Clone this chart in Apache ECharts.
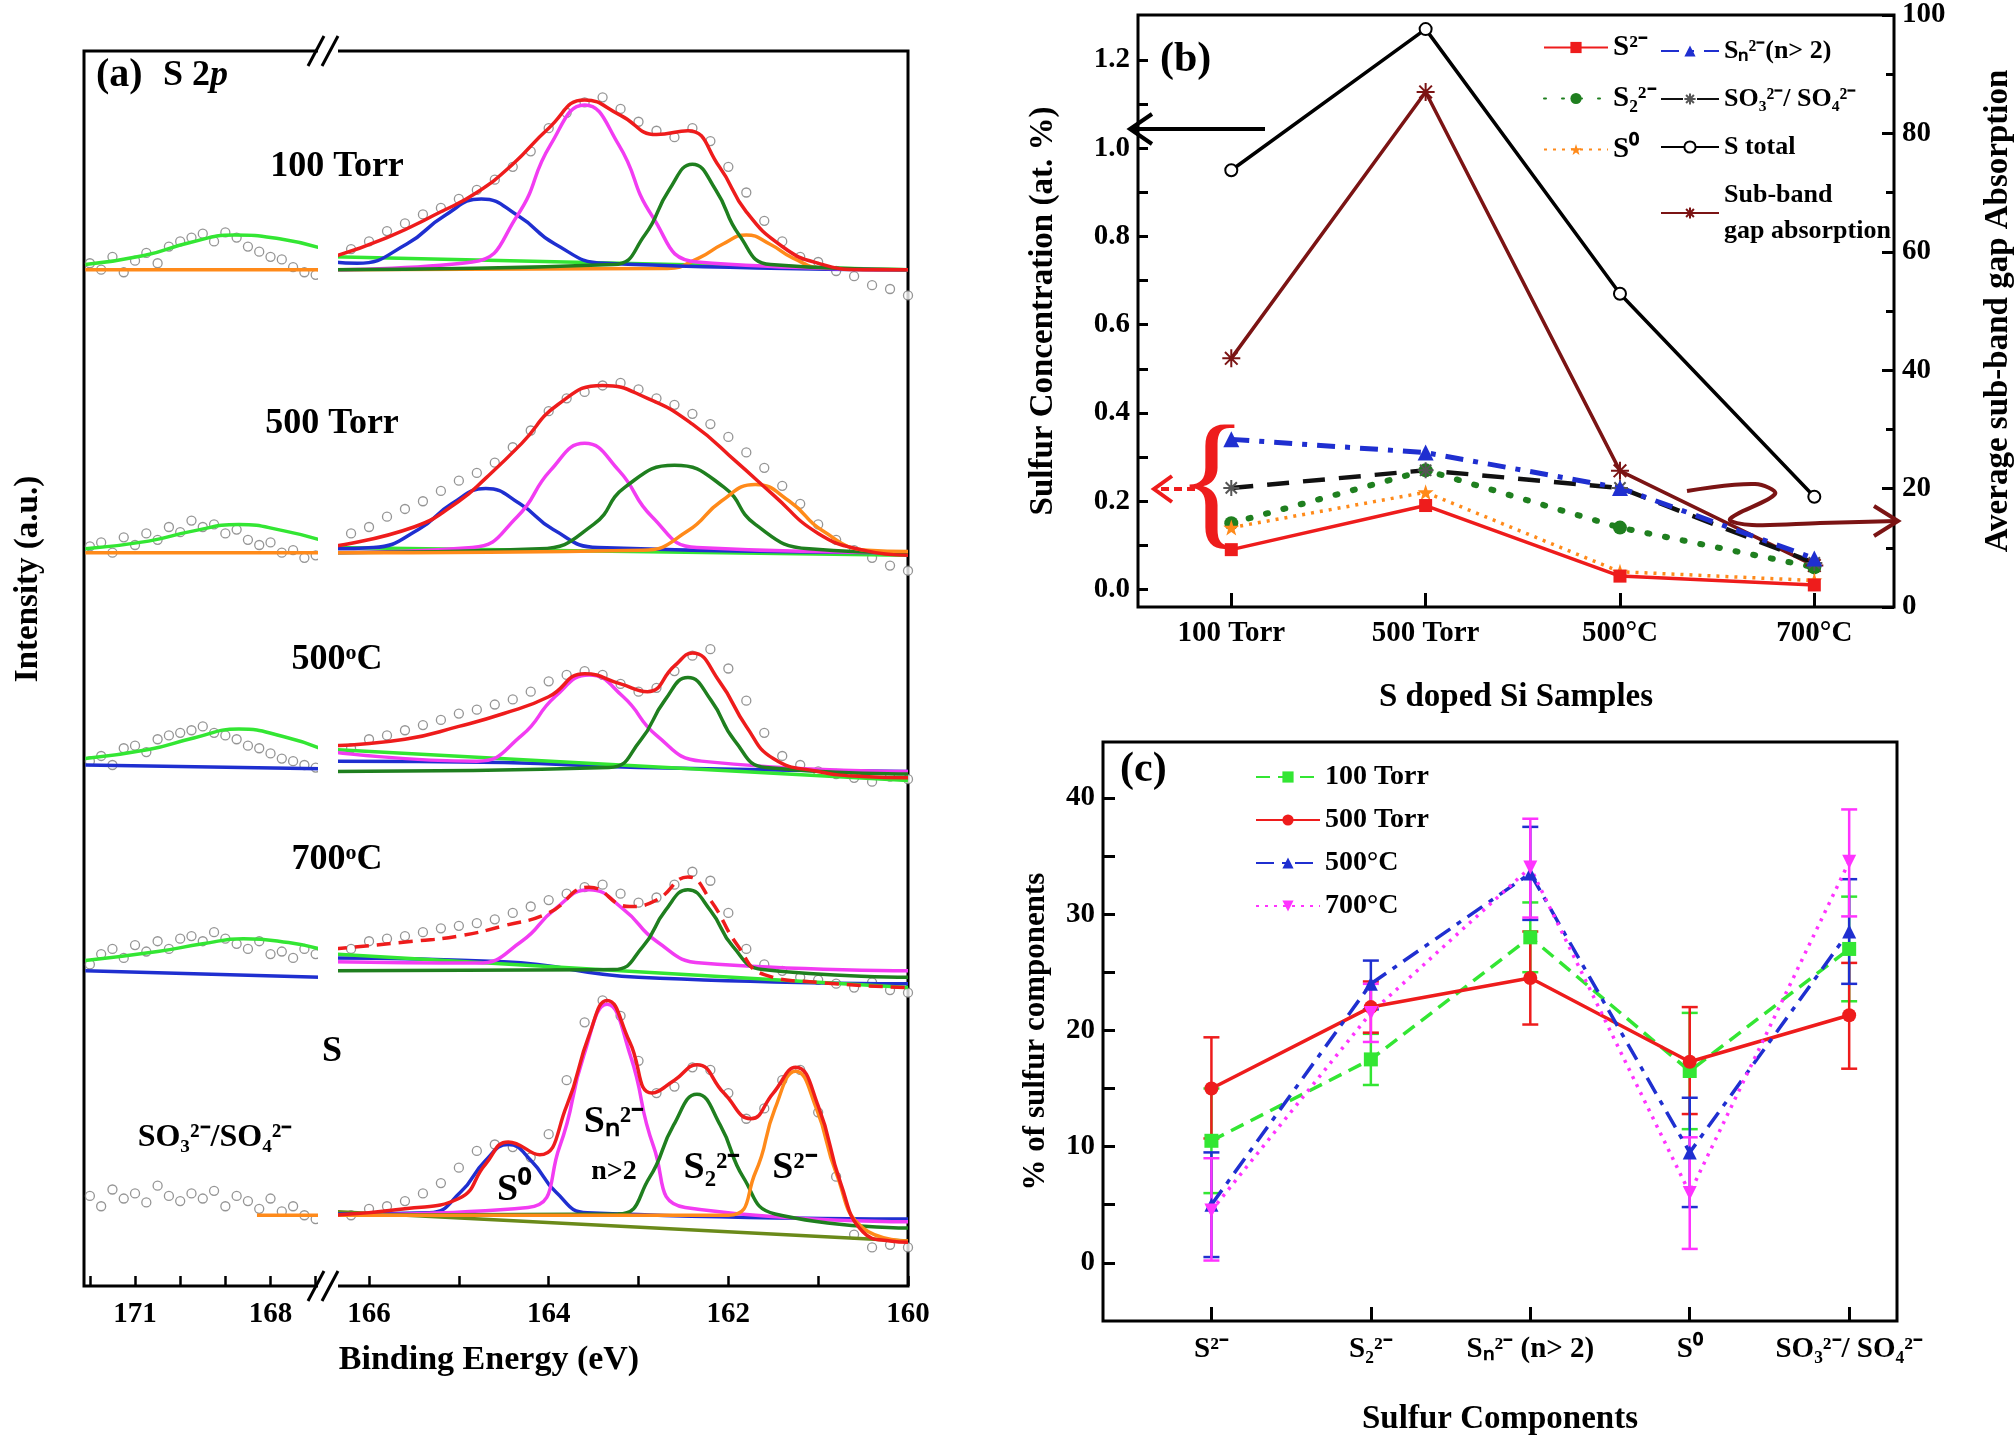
<!DOCTYPE html>
<html><head><meta charset="utf-8">
<script src="https://cdn.jsdelivr.net/npm/echarts@6/dist/echarts.min.js"></script>
<style>html,body{margin:0;background:#fff}#c{width:2016px;height:1447px}</style>
</head><body><div id="c"></div>
<script>
// ---------- Panel (a): XPS S 2p spectra (intensity in arbitrary stacked units) ----------
const rightX = [166.4,166.2,166.0,165.8,165.6,165.4,165.2,165.0,164.8,164.6,164.4,164.2,164.0,163.8,163.6,163.4,163.2,163.0,162.8,162.6,162.4,162.2,162.0,161.8,161.6,161.4,161.2,161.0,160.8,160.6,160.4,160.2,160.0];
const leftX = [172,171.75,171.5,171.25,171,170.75,170.5,170.25,170,169.75,169.5,169.25,169,168.75,168.5,168.25,168,167.75,167.5,167.25,167];
const aTickLabelsLeft = [171,168];
const aTickLabelsRight = [166,164,162,160];

// 100 Torr
const t100_scR = [800,806,812,820,826,833,838,845,852,860,870,882,900,912,920,924,915,905,898,893,900,890,870,850,828,812,800,796,789,785,778,775,770];
const t100_scL = [795,790,800,788,797,803,795,808,812,815,818,812,819,815,808,804,800,798,792,788,786];
const t100_blue = [[166.4,796],[166.13,795],[165.58,810],[165.16,832],[164.75,845],[164.34,832],[163.93,810],[163.38,795],[160,790]];
const t100_mag = [[166.4,790],[164.85,796],[164.35,832],[163.98,887],[163.6,918],[163.22,887],[162.85,832],[162.35,796],[160,790]];
const t100_grn = [[166.4,790],[163.28,794],[162.93,817],[162.66,852],[162.4,872],[162.14,852],[161.88,817],[161.53,794],[160,790]];
const t100_org = [[166.4,790],[162.68,791],[162.33,799],[162.06,810],[161.8,817],[161.54,810],[161.28,799],[160.93,791],[160,790]];
const t100_base = [[166.4,800],[160,790]];
const t100_red = [[166.4,800],[165.8,815],[165.2,835],[164.8,850],[164.4,872],[164,900],[163.6,922],[163.2,910],[162.8,895],[162.45,898],[162.1,870],[161.8,835],[161.4,808],[161,795],[160.5,790],[160,790]];
const t100_grnL = [[172.1,794],[170.8,801],[169.8,811],[168.8,817],[167.8,814],[166.9,807]];
const t100_orgL = [[172.1,790],[166.9,790]];

// 500 Torr
const t500_scR = [578,585,590,598,604,610,618,626,632,640,652,665,680,690,695,700,702,697,690,685,678,670,660,648,636,622,608,592,580,572,566,560,556];
const t500_scL = [575,578,570,582,576,585,580,590,586,595,590,592,585,588,580,576,578,570,572,566,568];
const t500_blue = [[166.4,573],[165.95,574],[165.45,588],[165.08,608],[164.7,620],[164.32,608],[163.95,588],[163.45,574],[160,570]];
const t500_mag = [[166.4,570],[164.85,574],[164.35,598],[163.98,634],[163.6,655],[163.22,634],[162.85,598],[162.35,574],[160,570]];
const t500_grn = [[166.4,570],[164.1,573],[163.5,592],[163.15,621],[162.6,638],[162.05,621],[161.7,592],[161.1,573],[160,570]];
const t500_org = [[166.4,570],[162.95,572],[162.45,587],[162.08,610],[161.7,623],[161.32,610],[160.95,587],[160.45,572],[160,571]];
const t500_base = [[166.4,574],[160,568]];
const t500_red = [[166.4,575],[165.5,590],[165,610],[164.7,628],[164.3,655],[163.9,685],[163.4,700],[162.9,690],[162.4,670],[161.9,640],[161.5,615],[161,585],[160.5,572],[160,568]];
const t500_grnL = [[172.1,573],[170.7,579],[169.7,587],[168.7,592],[167.7,587],[166.9,580]];
const t500_orgL = [[172.1,570],[166.9,570]];

// 500 °C
const c500_scR = [420,418,425,428,432,436,440,445,448,452,456,462,470,475,478,475,468,462,465,478,490,495,480,455,430,412,405,400,398,395,392,396,394];
const c500_scL = [408,412,405,418,420,415,425,428,430,432,435,430,428,425,420,418,414,410,408,405,403];
const c500_blue = [[166.4,408],[164.5,407],[163,403],[160,400]];
const c500_mag = [[166.4,415],[164.8,408],[164.3,428],[163.93,458],[163.55,475],[163.17,458],[162.8,428],[162.3,408],[160,400]];
const c500_grn = [[166.4,400],[163.33,403],[162.98,424],[162.71,455],[162.45,473],[162.19,455],[161.93,424],[161.58,403],[160,398]];
const c500_base = [[166.4,417],[160,393]];
const c500_red = [[166.4,420],[165.6,425],[165,435],[164.5,445],[164,458],[163.6,476],[163.2,468],[162.9,462],[162.6,482],[162.4,492],[162.1,470],[161.8,435],[161.5,410],[161,400],[160.5,396],[160,395]];
const c500_grnL = [[172.1,410],[170.7,417],[169.7,426],[168.7,433],[167.7,427],[166.9,418]];
const c500_blueL = [[172.1,405],[166.9,402]];

// 700 °C
const c700_scR = [265,262,268,270,272,275,278,280,282,285,290,295,300,305,310,312,305,298,302,312,322,315,290,262,250,245,240,238,235,232,236,230,228];
const c700_scL = [250,258,262,255,265,260,268,262,270,272,268,275,270,266,262,268,258,260,255,262,258];
const c700_blue = [[166.4,255],[164.5,252],[163,240],[160,235]];
const c700_mag = [[166.4,252],[164.8,251],[164.3,268],[163.93,293],[163.55,308],[163.17,293],[162.8,268],[162.3,251],[160,245]];
const c700_grn = [[166.4,245],[163.28,246],[162.95,264],[162.7,292],[162.45,308],[162.2,292],[161.95,264],[161.62,246],[160,240]];
const c700_base = [[166.4,258],[160,232]];
const c700_red = [[166.4,262],[165.5,268],[165,272],[164.5,280],[164,290],[163.55,310],[163.1,295],[162.8,300],[162.45,318],[162.2,300],[161.9,265],[161.6,242],[161,236],[160,232]];
const c700_grnL = [[172.1,253],[170.5,260],[169.5,266],[168.6,270],[167.6,267],[166.9,262]];
const c700_blueL = [[172.1,245],[166.9,240]];

// S reference
const s_scR = [58,55,60,62,66,72,80,92,105,110,108,100,118,160,205,222,210,175,150,155,170,168,150,130,138,160,168,135,85,40,30,32,30];
const s_scL = [70,62,75,68,72,65,78,70,66,72,68,74,62,70,66,60,68,58,62,55,52];
const s_blue = [[166.4,56],[165.33,57],[164.98,73],[164.71,97],[164.45,110],[164.19,97],[163.92,73],[163.57,57],[160,52]];
const s_mag = [[166.4,55],[164.23,61],[163.88,108],[163.61,179],[163.35,219],[163.09,179],[162.83,108],[162.48,61],[160,50]];
const s_grn = [[166.4,55],[163.23,56],[162.88,84],[162.61,125],[162.35,149],[162.09,125],[161.83,84],[161.48,56],[160,45]];
const s_org = [[166.4,55],[162,55],[161.7,88],[161.48,138],[161.25,167],[161.02,138],[160.8,88],[160.5,45],[160,35]];
const s_base = [[166.4,58],[160,35]];
const s_red = [[166.4,55],[165.6,60],[165,68],[164.7,95],[164.45,112],[164.1,102],[163.8,140],[163.55,195],[163.35,222],[163.1,190],[162.85,150],[162.6,160],[162.35,172],[162.05,150],[161.75,130],[161.5,150],[161.25,170],[161,140],[160.75,80],[160.5,42],[160.2,35],[160,34]];
const s_orgL = [[168.3,55],[166.9,55]];

// ---------- Panel (b) ----------
const bCats = ['100 Torr','500 Torr','500°C','700°C'];
const bS2m = [0.09,0.19,0.03,0.01];
const bS22 = [0.15,0.27,0.14,0.05];
const bS0 = [0.14,0.22,0.04,0.02];
const bSn = [0.34,0.31,0.23,0.07];
const bSO = [0.23,0.27,0.23,0.06];
const bTotal = [0.95,1.27,0.67,0.21];
const bSub = [42,87,23,7];
const bLeftTicks = [0,0.2,0.4,0.6,0.8,1.0,1.2];
const bLeftMinor = [0,0.1,0.2,0.3,0.4,0.5,0.6,0.7,0.8,0.9,1.0,1.1,1.2];

// ---------- Panel (c) ----------
const cCats = ['S²⁻','S₂²⁻','Sₙ²⁻ (n> 2)','S⁰','SO₃²⁻/ SO₄²⁻'];
const c100 = [10.5,17.5,28,16.5,27];
const c100lo = [6,15.3,25,11.5,22.5];
const c100hi = [15,19.7,31,21.5,31.5];
const c500T = [15,22,24.5,17.3,21.3];
const c500Tlo = [10.7,19.8,20.5,12.8,16.7];
const c500Thi = [19.4,24.2,28.5,22,25.8];
const c500C = [5,24,33.5,9.5,28.5];
const c500Clo = [0.5,21.8,29.5,4.8,24];
const c500Chi = [9.5,26,37.5,14.2,33];
const c700 = [4.5,21.5,34,6,34.5];
const c700lo = [0.2,19,29.7,1.2,29.8];
const c700hi = [9,24,38.2,10.8,39];
const cYTicks = [0,10,20,30,40];

// ---------- helpers ----------
const F = 'Liberation Serif';
const RED='#ee1c1c', BLUE='#1f2fd0', MAG='#f23cf2', GRN='#1f7f1f', ORG='#ff8a1a', LGRN='#33e633', GRAY='#7a7a7a', BROWN='#7b1414';
const zipX = (xs, ys) => xs.map((x,i)=>[x,ys[i]]);
const idx = arr => arr.map((v,i)=>[i,v]);
function ln(data, color, xi, opts={}) {
  return Object.assign({type:'line', data, xAxisIndex:xi, yAxisIndex:xi, symbol:'none', smooth:0.5,
    lineStyle:{color, width:3.5}, itemStyle:{color}, silent:true, z:3}, opts);
}
function sc(data, xi) {
  return {type:'scatter', data, xAxisIndex:xi, yAxisIndex:xi, symbol:'circle', symbolSize:9,
    itemStyle:{color:'#fff', borderColor:GRAY, borderWidth:1.3}, silent:true, z:2};
}
const specSeries = [];
function addSpec(scR, scL, parts) {
  specSeries.push(sc(zipX(rightX, scR),1), sc(zipX(leftX, scL),0));
  parts.forEach(p=>specSeries.push(ln(p[0], p[1], p[2], p[3]||{})));
}
addSpec(t100_scR, t100_scL, [[t100_base,LGRN,1],[t100_org,ORG,1],[t100_blue,BLUE,1],[t100_mag,MAG,1],[t100_grn,GRN,1],[t100_red,RED,1],[t100_orgL,ORG,0],[t100_grnL,LGRN,0]]);
addSpec(t500_scR, t500_scL, [[t500_base,LGRN,1],[t500_blue,BLUE,1],[t500_mag,MAG,1],[t500_grn,GRN,1],[t500_org,ORG,1],[t500_red,RED,1],[t500_orgL,ORG,0],[t500_grnL,LGRN,0]]);
addSpec(c500_scR, c500_scL, [[c500_blue,BLUE,1],[c500_base,LGRN,1],[c500_mag,MAG,1],[c500_grn,GRN,1],[c500_red,RED,1],[c500_blueL,BLUE,0],[c500_grnL,LGRN,0]]);
addSpec(c700_scR, c700_scL, [[c700_blue,BLUE,1],[c700_base,LGRN,1],[c700_mag,MAG,1],[c700_grn,GRN,1],[c700_red,RED,1,{lineStyle:{color:RED,width:3.5,type:[14,8]}}],[c700_blueL,BLUE,0],[c700_grnL,LGRN,0]]);
addSpec(s_scR, s_scL, [[s_base,'#6a8a1a',1],[s_blue,BLUE,1],[s_mag,MAG,1],[s_grn,GRN,1],[s_org,ORG,1],[s_red,RED,1],[s_orgL,ORG,0]]);

const star = 'path://M5,0L6.2,3.6L10,3.6L7,5.9L8.1,9.5L5,7.3L1.9,9.5L3,5.9L0,3.6L3.8,3.6Z';
const aster = 'path://M0,5L10,5M5,0L5,10M1.5,1.5L8.5,8.5M8.5,1.5L1.5,8.5';
function bl(name, data, color, symbol, size, type, yi, extra={}) {
  return Object.assign({type:'line', name, data:idx(data), xAxisIndex:2, yAxisIndex:yi, symbol, symbolSize:size,
    lineStyle:{color, width:3.5, type}, itemStyle:{color}, z:4}, extra);
}
function cl(name, data, color, symbol, type) {
  return {type:'line', name, data:idx(data), xAxisIndex:3, yAxisIndex:4, symbol, symbolSize:14,
    lineStyle:{color, width:3.5, type}, itemStyle:{color}, z:4};
}
function eb(lo, hi, color) {
  return {type:'custom', xAxisIndex:3, yAxisIndex:4, data:lo.map((l,i)=>[i,l,hi[i]]), silent:true, z:3,
    renderItem:(params, api)=>{
      const a = api.coord([api.value(0), api.value(1)]), b = api.coord([api.value(0), api.value(2)]);
      const st = {stroke:color, lineWidth:2.5};
      return {type:'group', children:[
        {type:'line', shape:{x1:a[0],y1:a[1],x2:b[0],y2:b[1]}, style:st},
        {type:'line', shape:{x1:a[0]-8,y1:a[1],x2:a[0]+8,y2:a[1]}, style:st},
        {type:'line', shape:{x1:b[0]-8,y1:b[1],x2:b[0]+8,y2:b[1]}, style:st}]};
    }};
}

const axTxt = {fontFamily:F, fontWeight:'bold', fontSize:29, color:'#000'};
const nameTxt = {fontFamily:F, fontWeight:'bold', fontSize:33, color:'#000'};
const sup = {fontFamily:F, fontWeight:'bold', fontSize:19, verticalAlign:'top', color:'#000'};
const lblBig = {fontFamily:F, fontWeight:'bold', fontSize:36, fill:'#000'};
const noLine = {show:false, onZero:false};

const option = {
  backgroundColor:'#fff', animation:false,
  grid:[
    {left:84, width:238, top:51, height:1235, show:true, borderColor:'#000', borderWidth:3, backgroundColor:'transparent'},
    {left:334, width:574, top:51, height:1235, show:true, borderColor:'#000', borderWidth:3, backgroundColor:'transparent'},
    {left:1138, right:119, top:15, bottom:840, show:true, borderColor:'#000', borderWidth:3},
    {left:1103, right:119, top:742, bottom:126, show:true, borderColor:'#000', borderWidth:3}
  ],
  xAxis:[
    {type:'value', gridIndex:0, inverse:true, min:166.86, max:172.13, axisLine:noLine, splitLine:{show:false},
      axisTick:{inside:true, length:10, lineStyle:{width:2.5,color:'#000'}, customValues:[172,171,170,169,168,167]},
      axisLabel:{...axTxt, margin:14, customValues:aTickLabelsLeft}},
    {type:'value', gridIndex:1, inverse:true, min:160, max:166.39, axisLine:noLine, splitLine:{show:false},
      axisTick:{inside:true, length:10, lineStyle:{width:2.5,color:'#000'}, customValues:[166,165,164,163,162,161,160]},
      axisLabel:{...axTxt, margin:14, customValues:aTickLabelsRight}},
    {type:'value', gridIndex:2, min:-0.48, max:3.41, axisLine:noLine, splitLine:{show:false},
      axisTick:{inside:true, length:14, lineStyle:{width:3,color:'#000'}, customValues:[0,1,2,3]},
      axisLabel:{...axTxt, margin:12, customValues:[0,1,2,3], formatter:v=>bCats[Math.round(v)]},
      name:'S doped Si Samples', nameLocation:'middle', nameGap:74, nameTextStyle:nameTxt},
    {type:'value', gridIndex:3, min:-0.68, max:4.3, axisLine:noLine, splitLine:{show:false},
      axisTick:{inside:true, length:14, lineStyle:{width:3,color:'#000'}, customValues:[0,1,2,3,4]},
      axisLabel:{...axTxt, margin:14, customValues:[0,1,2,3,4], formatter:v=>cCats[Math.round(v)]},
      name:'Sulfur Components', nameLocation:'middle', nameGap:82, nameTextStyle:nameTxt}
  ],
  yAxis:[
    {type:'value', gridIndex:0, min:0, max:960, show:false},
    {type:'value', gridIndex:1, min:0, max:960, show:false},
    {type:'value', gridIndex:2, min:-0.04, max:1.302, axisLine:noLine, splitLine:{show:false},
      axisTick:{inside:true, length:10, lineStyle:{width:3,color:'#000'}, customValues:bLeftMinor},
      axisLabel:{...axTxt, customValues:bLeftTicks, formatter:v=>v.toFixed(1)},
      name:'Sulfur Concentration (at. %)', nameLocation:'middle', nameGap:78, nameTextStyle:nameTxt},
    {type:'value', gridIndex:2, position:'right', min:0, max:100, interval:20, axisLine:noLine, splitLine:{show:false},
      axisTick:{inside:true, length:12, lineStyle:{width:3,color:'#000'}},
      minorTick:{show:true, splitNumber:2, length:8, lineStyle:{width:3,color:'#000'}},
      axisLabel:{...axTxt},
      name:'Average sub-band gap Absorption', nameLocation:'middle', nameGap:88, nameRotate:90, nameTextStyle:nameTxt},
    {type:'value', gridIndex:3, min:-5, max:44.8, axisLine:noLine, splitLine:{show:false},
      axisTick:{inside:true, length:12, lineStyle:{width:3,color:'#000'}, customValues:[0,5,10,15,20,25,30,35,40]},
      axisLabel:{...axTxt, customValues:cYTicks},
      name:'% of sulfur components', nameLocation:'middle', nameGap:52, nameTextStyle:{...nameTxt, fontSize:31}}
  ],
  legend:[
    {left:1538, top:28, orient:'vertical', itemWidth:64, itemHeight:14, itemGap:22,
      textStyle:{fontFamily:F, fontWeight:'bold', fontSize:29, color:'#000'},
      data:['S²⁻','S₂²⁻','S⁰']},
    {left:1655, top:28, orient:'vertical', itemWidth:58, itemHeight:14, itemGap:14, itemGap:12,
      textStyle:{fontFamily:F, fontWeight:'bold', fontSize:26, color:'#000', lineHeight:36},
      data:['Sₙ²⁻(n> 2)','SO₃²⁻/ SO₄²⁻','S total','Sub-band\ngap absorption']},
    {left:1250, top:758, orient:'vertical', itemWidth:64, itemHeight:14, itemGap:15,
      textStyle:{fontFamily:F, fontWeight:'bold', fontSize:28, color:'#000'},
      data:['100 Torr','500 Torr','500°C','700°C']}
  ],
  series:[
    ...specSeries,
    bl('S total', bTotal, '#000', 'circle', 12, 'solid', 2, {itemStyle:{color:'#fff', borderColor:'#000', borderWidth:2}}),
    bl('Sub-band\ngap absorption', bSub, BROWN, aster, 18, 'solid', 3, {itemStyle:{color:'none', borderColor:BROWN, borderWidth:2}}),
    bl('S₂²⁻', bS22, GRN, 'circle', 14, [3,14], 2, {lineStyle:{color:GRN,width:6,type:[2,16],cap:'round'}}),
    bl('SO₃²⁻/ SO₄²⁻', bSO, '#111', aster, 16, [22,14], 2, {itemStyle:{color:'none', borderColor:'#555', borderWidth:2}, lineStyle:{color:'#111',width:4.5,type:[22,14]}}),
    bl('Sₙ²⁻(n> 2)', bSn, BLUE, 'triangle', 16, [18,10,5,10], 2, {lineStyle:{color:BLUE,width:5,type:[18,10,5,10]}}),
    bl('S⁰', bS0, ORG, star, 16, [3,6], 2),
    bl('S²⁻', bS2m, RED, 'rect', 13, 'solid', 2),
    eb(c100lo, c100hi, LGRN), eb(c500Tlo, c500Thi, RED), eb(c500Clo, c500Chi, BLUE), eb(c700lo, c700hi, '#ff33ff'),
    cl('100 Torr', c100, LGRN, 'rect', [14,8]),
    cl('500 Torr', c500T, RED, 'circle', 'solid'),
    cl('500°C', c500C, BLUE, 'triangle', [18,8,5,8]),
    cl('700°C', c700, '#ff33ff', 'path://M0,0L10,0L5,9Z', [3,6])
  ],
  graphic:[
    {type:'rect', shape:{x:318, y:40, width:20, height:1262}, style:{fill:'#fff'}, z:100},
    {type:'line', shape:{x1:308,y1:66,x2:324,y2:36}, style:{stroke:'#000',lineWidth:3}, z:101},
    {type:'line', shape:{x1:322,y1:66,x2:338,y2:36}, style:{stroke:'#000',lineWidth:3}, z:101},
    {type:'line', shape:{x1:308,y1:1301,x2:324,y2:1271}, style:{stroke:'#000',lineWidth:3}, z:101},
    {type:'line', shape:{x1:322,y1:1301,x2:338,y2:1271}, style:{stroke:'#000',lineWidth:3}, z:101},
    {type:'text', x:96, y:56, style:{text:'(a)', ...lblBig, fontSize:40}, z:110},
    {type:'text', x:163, y:58, style:{text:'S 2{i|p}', ...lblBig, fontSize:36, rich:{i:{fontFamily:F,fontWeight:'bold',fontStyle:'italic',fontSize:36}}}, z:110},
    {type:'text', x:337, y:167, style:{text:'100 Torr', ...lblBig, align:'center', verticalAlign:'middle'}, z:110},
    {type:'text', x:332, y:424, style:{text:'500 Torr', ...lblBig, align:'center', verticalAlign:'middle'}, z:110},
    {type:'text', x:337, y:660, style:{text:'500{s|o}C', ...lblBig, align:'center', verticalAlign:'middle', rich:{s:{...sup, fontSize:22}}}, z:110},
    {type:'text', x:337, y:860, style:{text:'700{s|o}C', ...lblBig, align:'center', verticalAlign:'middle', rich:{s:{...sup, fontSize:22}}}, z:110},
    {type:'text', x:332, y:1052, style:{text:'S', ...lblBig, align:'center', verticalAlign:'middle'}, z:110},
    {type:'text', x:215, y:1138, style:{text:'SO₃²⁻/SO₄²⁻', ...lblBig, fontSize:32, align:'center', verticalAlign:'middle'}, z:110},
    {type:'text', x:514, y:1190, style:{text:'S⁰', ...lblBig, fontSize:38, align:'center', verticalAlign:'middle'}, z:110},
    {type:'text', x:614, y:1122, style:{text:'Sₙ²⁻', ...lblBig, fontSize:38, align:'center', verticalAlign:'middle'}, z:110},
    {type:'text', x:614, y:1172, style:{text:'n>2', ...lblBig, fontSize:28, align:'center', verticalAlign:'middle'}, z:110},
    {type:'text', x:712, y:1168, style:{text:'S₂²⁻', ...lblBig, fontSize:38, align:'center', verticalAlign:'middle'}, z:110},
    {type:'text', x:795, y:1168, style:{text:'S²⁻', ...lblBig, fontSize:38, align:'center', verticalAlign:'middle'}, z:110},
    {type:'text', x:28, y:579, rotation:Math.PI/2, style:{text:'Intensity (a.u.)', ...lblBig, fontSize:33, align:'center', verticalAlign:'middle'}, z:110},
    {type:'text', x:489, y:1360, style:{text:'Binding Energy (eV)', ...lblBig, fontSize:34, align:'center', verticalAlign:'middle'}, z:110},
    {type:'text', x:1160, y:60, style:{text:'(b)', ...lblBig, fontSize:42, verticalAlign:'middle'}, z:110},
    {type:'text', x:1120, y:770, style:{text:'(c)', ...lblBig, fontSize:42, verticalAlign:'middle'}, z:110},
    {type:'line', shape:{x1:1265,y1:129,x2:1132,y2:129}, style:{stroke:'#000',lineWidth:4}, z:110},
    {type:'polyline', shape:{points:[[1152,114],[1130,129],[1152,144]]}, style:{stroke:'#000',lineWidth:4,fill:'none'}, z:110},
    {type:'line', shape:{x1:1195,y1:489,x2:1156,y2:489}, style:{stroke:RED,lineWidth:4,lineDash:[8,5]}, z:110},
    {type:'polyline', shape:{points:[[1172,476],[1154,489],[1172,502]]}, style:{stroke:RED,lineWidth:4,fill:'none'}, z:110},
    {type:'text', x:1212, y:490, style:{text:'{', fontFamily:F, fontWeight:'normal', fontSize:150, fill:RED, align:'center', verticalAlign:'middle'}, z:110},
    {type:'polyline', shape:{points:[[1687,491],[1755,484],[1775,494],[1730,519],[1752,525],[1820,523],[1896,521]], smooth:0.35}, style:{stroke:BROWN,lineWidth:4,fill:'none'}, z:110},
    {type:'polyline', shape:{points:[[1874,506],[1898,521],[1874,536]]}, style:{stroke:BROWN,lineWidth:4,fill:'none'}, z:110}
  ]
};
const chart = echarts.init(document.getElementById('c'), null, {renderer:'canvas'});
chart.setOption(option);
</script></body></html>
